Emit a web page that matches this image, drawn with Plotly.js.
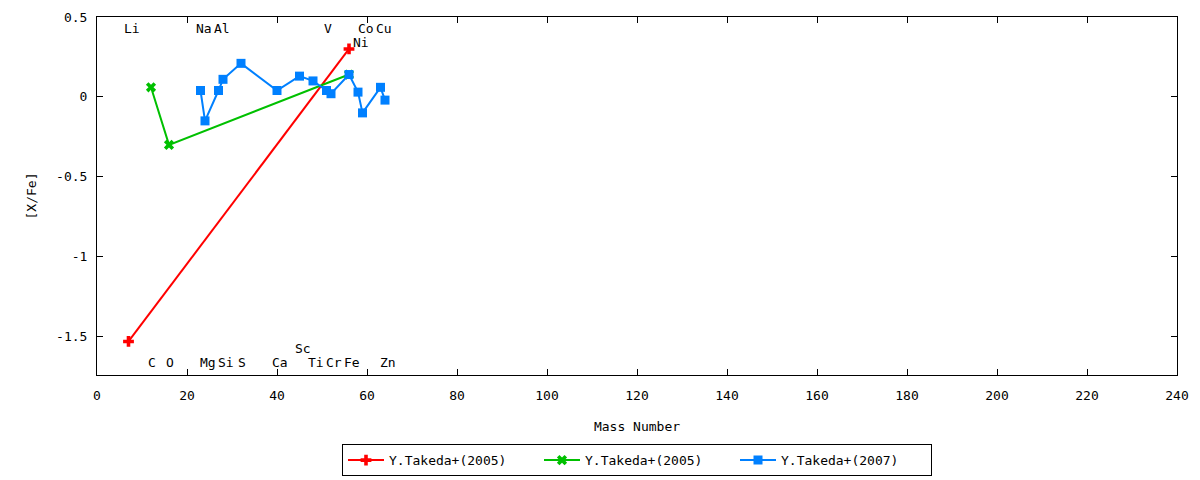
<!DOCTYPE html>
<html>
<head>
<meta charset="utf-8">
<script src="https://cdn.plot.ly/plotly-3.0.1.min.js"></script>
<style>html,body{margin:0;padding:0;background:#fff;}#chart{width:1200px;height:480px;}</style>
</head>
<body>
<div id="chart"></div>
<script>
// Series 1: Y.Takeda+(2005) red
const s1Name = "Y.Takeda+(2005)";
const s1Mass = [7, 56];
const s1Val = [-1.53, 0.30];
// Series 2: Y.Takeda+(2005) green
const s2Name = "Y.Takeda+(2005)";
const s2Mass = [12, 16, 56];
const s2Val = [0.06, -0.30, 0.14];
// Series 3: Y.Takeda+(2007) blue
const s3Name = "Y.Takeda+(2007)";
const s3Mass = [23, 24, 27, 28, 32, 40, 45, 48, 51, 52, 56, 58, 59, 63, 64];
const s3Val = [0.04, -0.15, 0.04, 0.11, 0.21, 0.04, 0.13, 0.10, 0.04, 0.02, 0.14, 0.03, -0.10, 0.06, -0.02];

// Element labels (mass number, [X/Fe] level of the label)
const elemNames = ["Li","Na","Al","V","Co","Cu","Ni","C","O","Mg","Si","S","Ca","Sc","Ti","Cr","Fe","Zn"];
const elemMass  = [7, 23, 27, 51, 59, 63, 58, 12, 16, 24, 28, 32, 40, 45, 48, 52, 56, 64];
const elemLevel = [0.43, 0.43, 0.43, 0.43, 0.43, 0.43, 0.34, -1.66, -1.66, -1.66, -1.66, -1.66, -1.66, -1.575, -1.66, -1.66, -1.66, -1.66];

const xTicks = [0, 20, 40, 60, 80, 100, 120, 140, 160, 180, 200, 220, 240];
const yTicks = [0.5, 0, -0.5, -1, -1.5];
const yTickText = ["0.5", "0", "-0.5", "-1", "-1.5"];

const FONT = "DejaVu Sans Mono, Liberation Mono, monospace";
const FS = 13;

const traces = [
  {x: s1Mass, y: s1Val, name: s1Name, type: "scatter", mode: "lines+markers",
   line: {color: "#ff0000", width: 2}, marker: {symbol: "cross", size: 9, color: "#ff0000"}},
  {x: s2Mass, y: s2Val, name: s2Name, type: "scatter", mode: "lines+markers",
   line: {color: "#00c000", width: 2}, marker: {symbol: "x", size: 9, color: "#00c000"}},
  {x: s3Mass, y: s3Val, name: s3Name, type: "scatter", mode: "lines+markers",
   line: {color: "#0080ff", width: 2}, marker: {symbol: "square", size: 9, color: "#0080ff"}}
];

const annotations = elemNames.map((n, i) => ({
  x: elemMass[i], y: elemLevel[i], xref: "x", yref: "y", text: n, showarrow: false,
  xanchor: "center", yanchor: "middle", xshift: n.length > 1 ? 3 : 1,
  font: {family: FONT, size: FS, color: "#000"}
}));

const layout = {
  width: 1200, height: 480,
  margin: {l: 97, r: 23, t: 17, b: 105, autoexpand: false},
  paper_bgcolor: "#fff", plot_bgcolor: "#fff",
  font: {family: FONT, size: FS, color: "#000"},
  showlegend: true,
  legend: {orientation: "h", x: 0.5, xanchor: "center", yref: "container", y: 0.008, yanchor: "bottom",
           bordercolor: "#000", borderwidth: 1, font: {family: FONT, size: FS, color: "#000"},
           entrywidth: 145, itemwidth: 36, traceorder: "normal", tracegroupgap: 0},
  xaxis: {range: [0, 240], tickvals: xTicks, ticktext: xTicks.map(String),
          ticks: "inside", ticklen: 6, tickcolor: "#000", mirror: "ticks",
          showline: true, linecolor: "#000", linewidth: 1, showgrid: false, zeroline: false,
          ticklabelstandoff: 8,
          title: {text: "Mass Number", font: {family: FONT, size: FS}, standoff: 20},
          tickfont: {family: FONT, size: FS}},
  yaxis: {range: [-1.74, 0.5], tickvals: yTicks, ticktext: yTickText,
          ticks: "inside", ticklen: 6, tickcolor: "#000", mirror: "ticks",
          showline: true, linecolor: "#000", linewidth: 1, showgrid: false, zeroline: false,
          ticklabelstandoff: 6,
          title: {text: "[X/Fe]", font: {family: FONT, size: FS}, standoff: 16},
          tickfont: {family: FONT, size: FS}},
  annotations: annotations
};

Plotly.newPlot("chart", traces, layout, {displayModeBar: false, staticPlot: true});
</script>
</body>
</html>
